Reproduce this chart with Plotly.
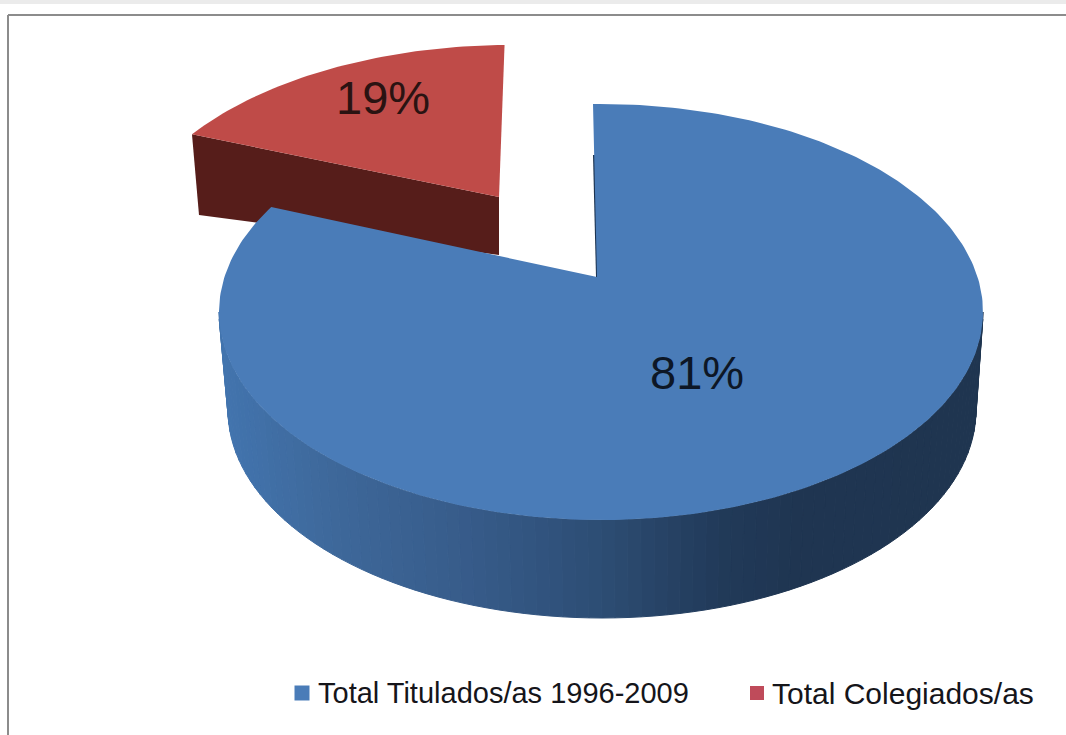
import math
import plotly.graph_objects as go

# ---- data ----
categories = ["Total Titulados/as 1996-2009", "Total Colegiados/as"]
shares = [81, 19]
labels = ["81%", "19%"]

# ---- styling / layout (pixel-based axes) ----
W, H = 1066, 735
BLUE_TOP, RED_TOP, RED_DARK = "#4a7cb8", "#bf4b48", "#561d1a"
SLICE_GEOM = {
    0: dict(cx=601, cy=312, rx=382, ry=208, apex=(597, 277), start=-1.2, stretch=1.034),
    1: dict(cx=510, cy=257, rx=390, ry=212, apex=(499, 197), start=-0.8, stretch=-0.787),
}
WALL_BOTTOM = dict(cx=602, cy=410, rx=374, ry=208)
WALL_STOPS = [(220, (66, 116, 174)), (330, (62, 104, 154)), (480, (54, 90, 136)),
              (600, (45, 77, 116)), (720, (33, 58, 89)), (800, (31, 53, 81)), (985, (31, 53, 80))]
N_STRIPS = 90


def ell(g, t):
    r = math.radians(t)
    return g["cx"] + g["rx"] * math.sin(r), g["cy"] - g["ry"] * math.cos(r)


def wall_colour(x):
    for (x0, c0), (x1, c1) in zip(WALL_STOPS, WALL_STOPS[1:]):
        if x <= x1:
            f = max(0, (x - x0) / (x1 - x0))
            return "rgb(%d,%d,%d)" % tuple(round(a + (b - a) * f) for a, b in zip(c0, c1))
    return "rgb(31,53,80)"


def poly(pts, colour, line=0):
    xs, ys = zip(*pts)
    return go.Scatter(x=list(xs) + [xs[0]], y=list(ys) + [ys[0]], mode="lines", fill="toself",
                      fillcolor=colour, line=dict(color=colour, width=line), hoverinfo="skip",
                      showlegend=False)


def sector(i, colour):
    g = SLICE_GEOM[i]
    sweep = shares[i] / sum(shares) * 360 * g["stretch"]
    n = max(40, int(abs(sweep)))
    return poly([g["apex"]] + [ell(g, g["start"] + sweep * k / n) for k in range(n + 1)], colour)


fig = go.Figure()

# red cut face, behind everything
g1 = SLICE_GEOM[1]
red_sweep = shares[1] / sum(shares) * 360 * g1["stretch"]
red_end = ell(g1, g1["start"] + red_sweep)
fig.add_trace(poly([red_end, g1["apex"], (g1["apex"][0], 255), (199, 215)], RED_DARK))
fig.add_trace(sector(1, RED_TOP))

# blue outer wall as gradient strips
g0 = SLICE_GEOM[0]
for k in range(N_STRIPS):
    t0, t1 = 90 + 180 * k / N_STRIPS, 90 + 180 * (k + 1) / N_STRIPS
    a, b, c, d = ell(g0, t0), ell(g0, t1), ell(WALL_BOTTOM, t1), ell(WALL_BOTTOM, t0)
    col = wall_colour((a[0] + b[0]) / 2)
    fig.add_trace(poly([a, b, c, d], col, line=1))

# thin dark inner edge of the blue slice
fig.add_trace(go.Scatter(x=[594, 597], y=[155, 277], mode="lines", hoverinfo="skip", showlegend=False,
                         line=dict(color="#1c3350", width=2)))
fig.add_trace(sector(0, BLUE_TOP))

# legend swatches
fig.add_trace(go.Scatter(x=[302], y=[693], mode="markers", name=categories[0], showlegend=False, hoverinfo="skip",
                         marker=dict(symbol="square", size=15, color="#4a7cb8")))
fig.add_trace(go.Scatter(x=[757], y=[693], mode="markers", name=categories[1], showlegend=False, hoverinfo="skip",
                         marker=dict(symbol="square", size=14, color="#bf4b5a")))

font = "Liberation Sans"
anns = [
    dict(x=697, y=372, text=labels[0], font=dict(size=47, color="#0d1726", family=font), xanchor="center", yanchor="middle"),
    dict(x=383, y=97, text=labels[1], font=dict(size=47, color="#2a1312", family=font), xanchor="center", yanchor="middle"),
    dict(x=316, y=693, text=categories[0], font=dict(size=29, color="#15151a", family=font), xanchor="left", yanchor="middle"),
    dict(x=770, y=693, text=categories[1], font=dict(size=30, color="#15151a", family=font), xanchor="left", yanchor="middle"),
]
for a in anns:
    a.update(xref="x", yref="y", showarrow=False)

FRAME = "#8c8c8c"
shapes = [
    dict(type="rect", xref="x", yref="y", x0=0, x1=W, y0=0, y1=4, fillcolor="#ebebeb", line_width=0, layer="below"),
    dict(type="line", xref="x", yref="y", x0=8, x1=W, y0=15, y1=15, line=dict(color=FRAME, width=2), layer="below"),
    dict(type="line", xref="x", yref="y", x0=8, x1=8, y0=15, y1=H, line=dict(color=FRAME, width=2), layer="below"),
]

fig.update_layout(
    width=W, height=H, autosize=False, margin=dict(l=0, r=0, t=0, b=0),
    paper_bgcolor="white", plot_bgcolor="white", showlegend=False,
    xaxis=dict(range=[0, W], visible=False, fixedrange=True),
    yaxis=dict(range=[H, 0], visible=False, fixedrange=True),
    annotations=anns, shapes=shapes,
)
fig.write_html("out.html", config={"displayModeBar": False},
               post_script="document.body.style.margin='0';document.body.style.overflow='hidden';")
